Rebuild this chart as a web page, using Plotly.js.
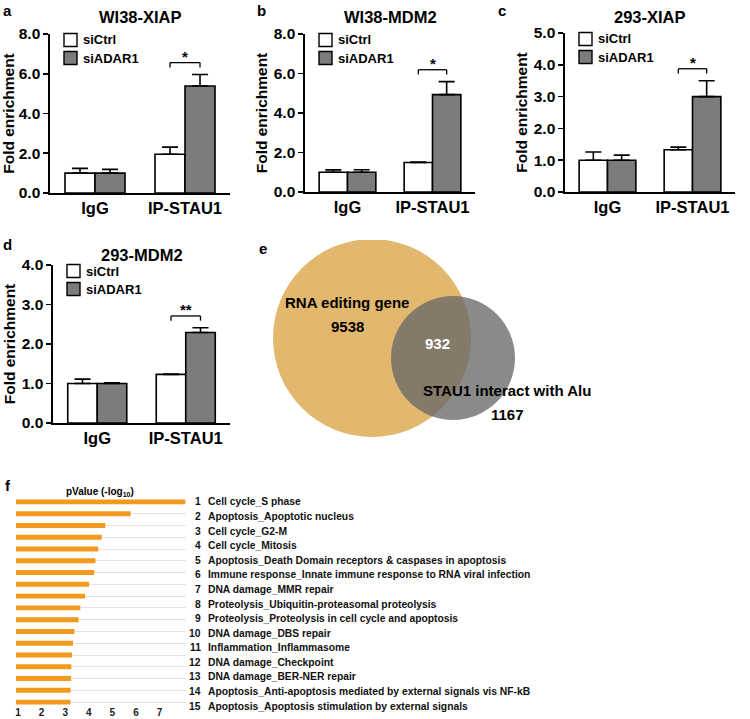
<!DOCTYPE html>
<html><head><meta charset="utf-8">
<script src="https://cdn.plot.ly/plotly-3.0.1.min.js"></script>
<style>html,body{margin:0;padding:0;background:#fff}#chart{width:750px;height:719px}</style>
</head><body><div id="chart"></div>
<script>
// ---------- data ----------
const groups = ["IgG", "IP-STAU1"];
const seriesNames = ["siCtrl", "siADAR1"];
// panel a: WI38-XIAP
const aCtrl = [1.0, 1.95], aCtrlErr = [0.24, 0.36];
const aAdar = [1.0, 5.38], aAdarErr = [0.19, 0.58];
// panel b: WI38-MDM2
const bCtrl = [1.0, 1.49], bCtrlErr = [0.12, 0.03];
const bAdar = [1.0, 4.93], bAdarErr = [0.13, 0.66];
// panel c: 293-XIAP
const cCtrl = [1.0, 1.33], cCtrlErr = [0.26, 0.08];
const cAdar = [1.0, 3.0], cAdarErr = [0.16, 0.5];
// panel d: 293-MDM2
const dCtrl = [1.0, 1.23], dCtrlErr = [0.11, 0.01];
const dAdar = [1.0, 2.29], dAdarErr = [0.02, 0.12];
const panelTitles = ["WI38-XIAP", "WI38-MDM2", "293-XIAP", "293-MDM2"];
const yMax = [8, 8, 5, 4];
const yStep = [2, 2, 1, 1];
const sigMarks = ["*", "*", "*", "**"];
// panel e: Venn
const vennLabels = ["RNA editing gene", "STAU1 interact with Alu"];
const vennOnly = [9538, 1167];
const vennShared = 932;
// panel f: pathway enrichment, -log10 p
const pathwayValues = [8.09, 5.77, 4.70, 4.55, 4.40, 4.28, 4.23, 4.01, 3.84, 3.64, 3.57, 3.39, 3.33, 3.29, 3.26, 3.25, 3.23, 3.22];
const pathwayLabels = [
 "Cell cycle_S phase",
 "Apoptosis_Apoptotic nucleus",
 "Cell cycle_G2-M",
 "Cell cycle_Mitosis",
 "Apoptosis_Death Domain receptors & caspases in apoptosis",
 "Immune response_Innate immune response to RNA viral infection",
 "DNA damage_MMR repair",
 "Proteolysis_Ubiquitin-proteasomal proteolysis",
 "Proteolysis_Proteolysis in cell cycle and apoptosis",
 "DNA damage_DBS repair",
 "Inflammation_Inflammasome",
 "DNA damage_Checkpoint",
 "DNA damage_BER-NER repair",
 "Apoptosis_Anti-apoptosis mediated by external signals vis NF-kB",
 "Apoptosis_Apoptosis stimulation by external signals"
];
const fTicks = [1, 2, 3, 4, 5, 6, 7];

// ---------- layout helpers ----------
const W = 750, H = 719;
const px = x => x / W;
const py = y => 1 - y / H;
const dx = (l, r) => [px(l), px(r)];
const dy = (t, b) => [py(b), py(t)];
const FONT = "Liberation Sans, Arial, sans-serif";
const bold = (size, color) => ({family: FONT, size: size, color: color || "#000", weight: "bold"});

const panelBoxes = [ // [left,right,top,bottom] in px
  [50, 230, 34, 193],
  [305, 475, 34, 192],
  [565, 735, 33, 192],
  [53, 230, 265, 423]
];
const titleY = [17, 17, 17, 255];
const panelData = [
  [aCtrl, aCtrlErr, aAdar, aAdarErr],
  [bCtrl, bCtrlErr, bAdar, bAdarErr],
  [cCtrl, cCtrlErr, cAdar, cAdarErr],
  [dCtrl, dCtrlErr, dAdar, dAdarErr]
];
const fills = ["#ffffff", "#7c7c7c"];

const traces = [];
const layout = {
  width: W, height: H, margin: {l: 0, r: 0, t: 0, b: 0},
  paper_bgcolor: "#fff", plot_bgcolor: "rgba(0,0,0,0)",
  showlegend: false, barmode: "group", bargap: 0.333, bargroupgap: 0,
  font: {family: FONT},
  annotations: [], shapes: []
};

panelData.forEach((pd, i) => {
  const n = i + 1;
  const xa = n === 1 ? "x" : "x" + n, ya = n === 1 ? "y" : "y" + n;
  const xk = n === 1 ? "xaxis" : "xaxis" + n, yk = n === 1 ? "yaxis" : "yaxis" + n;
  const [l, r, t, b] = panelBoxes[i];
  for (let s = 0; s < 2; s++) {
    const vals = pd[s * 2], errs = pd[s * 2 + 1];
    traces.push({
      type: "bar", x: groups, y: vals, name: seriesNames[s], xaxis: xa, yaxis: ya,
      marker: {color: fills[s], line: {color: "#000", width: 1.6}},
      error_y: {type: "data", symmetric: false, array: errs, arrayminus: errs.map(() => 0),
                color: "#000", thickness: 1.6, width: 8},
      hoverinfo: "skip"
    });
  }
  layout[xk] = {domain: dx(l, r), anchor: ya, type: "category", range: [-0.5, 1.5],
    showline: true, linecolor: "#000", linewidth: 1.6, ticks: "", tickfont: bold(16.5),
    showgrid: false, zeroline: false, fixedrange: true};
  layout[yk] = {domain: dy(t, b), anchor: xa, range: [0, yMax[i]], dtick: yStep[i], tick0: 0,
    tickformat: ".1f", showline: true, linecolor: "#000", linewidth: 1.6, ticks: "outside",
    ticklen: 5, tickwidth: 1.6, tickcolor: "#000", tickfont: bold(15.5), showgrid: false, zeroline: false,
    title: {text: "Fold enrichment", font: bold(15.5), standoff: 2}, fixedrange: true};
  // title
  layout.annotations.push({xref: "paper", yref: "paper", x: px((l + r) / 2), y: py(titleY[i]),
    text: panelTitles[i], showarrow: false, font: bold(16.5), xanchor: "center", yanchor: "middle"});
  // legend boxes
  for (let s = 0; s < 2; s++) {
    const cy = t + 6 + s * 18;
    layout.shapes.push({type: "rect", xref: "paper", yref: "paper",
      x0: px(l + 14), x1: px(l + 27), y0: py(cy + 6.5), y1: py(cy - 6.5),
      fillcolor: fills[s], line: {color: "#000", width: 1.4}});
    layout.annotations.push({xref: "paper", yref: "paper", x: px(l + 31), y: py(cy),
      text: seriesNames[s], showarrow: false, font: bold(13), xanchor: "left", yanchor: "middle"});
  }
  // significance bracket over IP-STAU1 pair
  const top = Math.max(pd[0][1] + pd[1][1], pd[2][1] + pd[3][1]);
  const by = top + 0.075 * yMax[i];
  const drop = 0.03 * yMax[i];
  const x0 = 1 - 1 / 6, x1 = 1 + 1 / 6;
  const ln = {color: "#000", width: 1.3};
  layout.shapes.push({type: "line", xref: xa, yref: ya, x0: x0, x1: x1, y0: by, y1: by, line: ln});
  layout.shapes.push({type: "line", xref: xa, yref: ya, x0: x0, x1: x0, y0: by, y1: by - drop, line: ln});
  layout.shapes.push({type: "line", xref: xa, yref: ya, x0: x1, x1: x1, y0: by, y1: by - drop, line: ln});
  layout.annotations.push({xref: xa, yref: ya, x: 1, y: by, text: sigMarks[i], showarrow: false,
    font: bold(15), xanchor: "center", yanchor: "bottom", yshift: -4});
});

// panel letters
[["a", 7, 10], ["b", 261, 10], ["c", 502, 10], ["d", 7, 244], ["e", 263, 248], ["f", 8, 485]].forEach(p => {
  layout.annotations.push({xref: "paper", yref: "paper", x: px(p[1]), y: py(p[2]), text: p[0],
    showarrow: false, font: bold(15), xanchor: "center", yanchor: "middle"});
});

// ---------- panel e: Venn ----------
const vennGeom = {big: {cx: 372, cy: 338, r: 99}, small: {cx: 453, cy: 358, r: 62}};
layout.xaxis5 = {domain: dx(250, 750), anchor: "y5", range: [250, 750], visible: false, fixedrange: true};
layout.yaxis5 = {domain: dy(240, 480), anchor: "x5", range: [480, 240], visible: false, fixedrange: true};
traces.push({type: "scatter", mode: "none", x: [vennGeom.big.cx], y: [vennGeom.big.cy], xaxis: "x5", yaxis: "y5", hoverinfo: "skip"});
const circ = (g, fill) => ({type: "circle", xref: "x5", yref: "y5", x0: g.cx - g.r, x1: g.cx + g.r,
  y0: g.cy - g.r, y1: g.cy + g.r, fillcolor: fill, line: {width: 0}, layer: "above"});
layout.shapes.push(circ(vennGeom.big, "rgb(226,184,110)"));
layout.shapes.push(circ(vennGeom.small, "rgba(105,105,105,0.78)"));
const vt = (x, y, text, color) => ({xref: "x5", yref: "y5", x: x, y: y, text: text, showarrow: false,
  font: bold(15, color), xanchor: "center", yanchor: "middle"});
layout.annotations.push(vt(347, 302, vennLabels[0]));
layout.annotations.push(vt(347, 326, String(vennOnly[0])));
layout.annotations.push(vt(437, 343, String(vennShared), "#fff"));
layout.annotations.push(vt(507, 390, vennLabels[1]));
layout.annotations.push(vt(507, 414, String(vennOnly[1])));

// ---------- panel f: horizontal bars ----------
const rowIdx = pathwayValues.map((v, i) => i + 1);
traces.push({type: "bar", orientation: "h", x: pathwayValues, y: rowIdx, xaxis: "x6", yaxis: "y6",
  width: 0.42, marker: {color: "#f39a1e", line: {width: 0}}, hoverinfo: "skip"});
layout.xaxis6 = {domain: dx(16, 186), anchor: "y6", range: [0.915, 8.12], tickvals: fTicks,
  ticks: "", showline: false, showgrid: false, zeroline: false, tickfont: bold(10, "#222"),
  ticklabelstandoff: -3, fixedrange: true};
layout.yaxis6 = {domain: dy(496, 708), anchor: "x6", range: [18.5, 0.5], dtick: 1, tick0: 1,
  showticklabels: false, ticks: "", showgrid: true, gridcolor: "#e4e4e4", gridwidth: 1,
  zeroline: false, showline: false, fixedrange: true};
layout.annotations.push({xref: "paper", yref: "paper", x: px(100), y: py(492),
  text: "pValue (-log<sub>10</sub>)", showarrow: false, font: bold(10), xanchor: "center", yanchor: "middle"});
pathwayLabels.forEach((lab, i) => {
  const yy = 502 + i * (706 - 502) / (pathwayLabels.length - 1);
  layout.annotations.push({xref: "paper", yref: "paper", x: px(203), y: py(yy), text: String(i + 1),
    showarrow: false, font: bold(10.3, "#111"), xanchor: "right", yanchor: "middle"});
  layout.annotations.push({xref: "paper", yref: "paper", x: px(206), y: py(yy), text: lab,
    showarrow: false, font: bold(10.3, "#111"), xanchor: "left", yanchor: "middle"});
});

Plotly.newPlot("chart", traces, layout, {staticPlot: true, displayModeBar: false});
</script></body></html>
